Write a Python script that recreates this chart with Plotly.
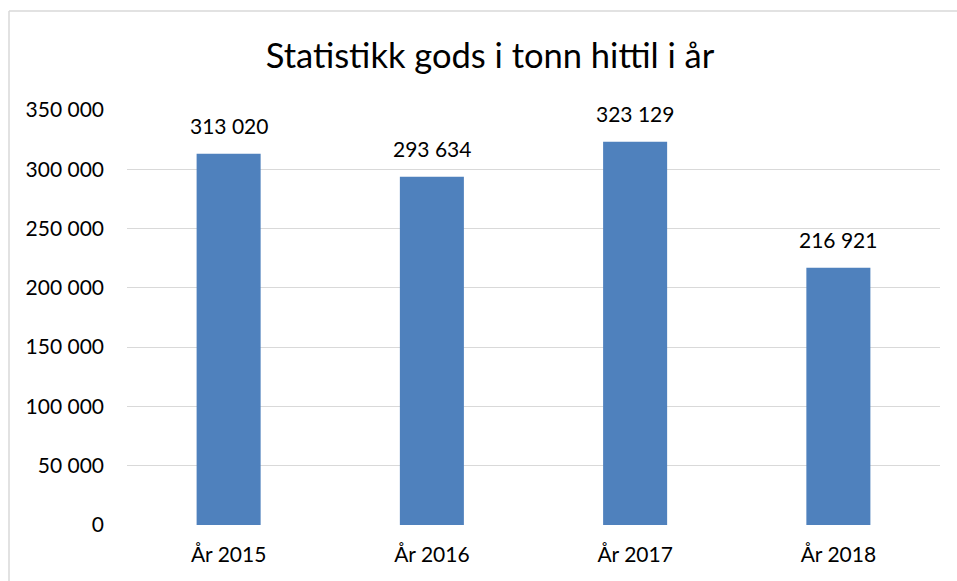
import plotly.graph_objects as go

categories = ["År 2015", "År 2016", "År 2017", "År 2018"]
values = [313020, 293634, 323129, 216921]
y_ticks = [0, 50000, 100000, 150000, 200000, 250000, 300000, 350000]
title_text = "Statistikk gods i tonn hittil i år"

W, H = 957, 581
L, R, T, B = 127, 17, 110, 56
pw, ph = W - L - R, H - T - B

fig = go.Figure(go.Bar(
    x=categories, y=values,
    marker=dict(color="#4F81BD", line=dict(width=0)),
    width=0.315,
    textposition="none",
    hoverinfo="skip",
))

for c, v in zip(categories, values):
    fig.add_annotation(x=c, y=v, text=f"{v:,}".replace(",", " "), showarrow=False,
                       yanchor="bottom", yshift=14,
                       font=dict(family="Lato", size=21, color="#000000"))

# chart border (top and left edges visible)
bx = (9 - L) / pw
by = (H - B - 11) / ph
fig.add_shape(type="line", xref="paper", yref="paper", x0=bx, x1=1.2, y0=by, y1=by,
              line=dict(color="#d9d9d9", width=1.5))
fig.add_shape(type="line", xref="paper", yref="paper", x0=bx, x1=bx, y0=by, y1=-0.3,
              line=dict(color="#d9d9d9", width=1.5))

fig.update_layout(
    width=W, height=H,
    margin=dict(l=L, r=R, t=T, b=B),
    paper_bgcolor="white", plot_bgcolor="white",
    separators=", ",
    showlegend=False,
    title=dict(text=title_text, x=490 / W, xanchor="center", xref="container",
               y=1 - 56 / H, yanchor="middle", yref="container",
               font=dict(family="Lato", size=34.5, color="#000000")),
    font=dict(family="Lato", size=21, color="#000000"),
)
fig.update_xaxes(showgrid=False, showline=False, ticks="", ticklabelstandoff=15,
                 tickfont=dict(family="Lato", size=21, color="#000000"))
fig.update_yaxes(range=[0, 350000], tickvals=y_ticks, tickformat=",.0f",
                 showgrid=True, gridcolor="#d9d9d9", gridwidth=1.2,
                 zeroline=False, showline=False, ticks="", ticklabelstandoff=22,
                 tickfont=dict(family="Lato", size=21, color="#000000"))

fig.write_html(
    "out.html",
    config={"displayModeBar": False},
    post_script="document.body.style.margin='0';document.body.style.overflow='hidden';",
)
